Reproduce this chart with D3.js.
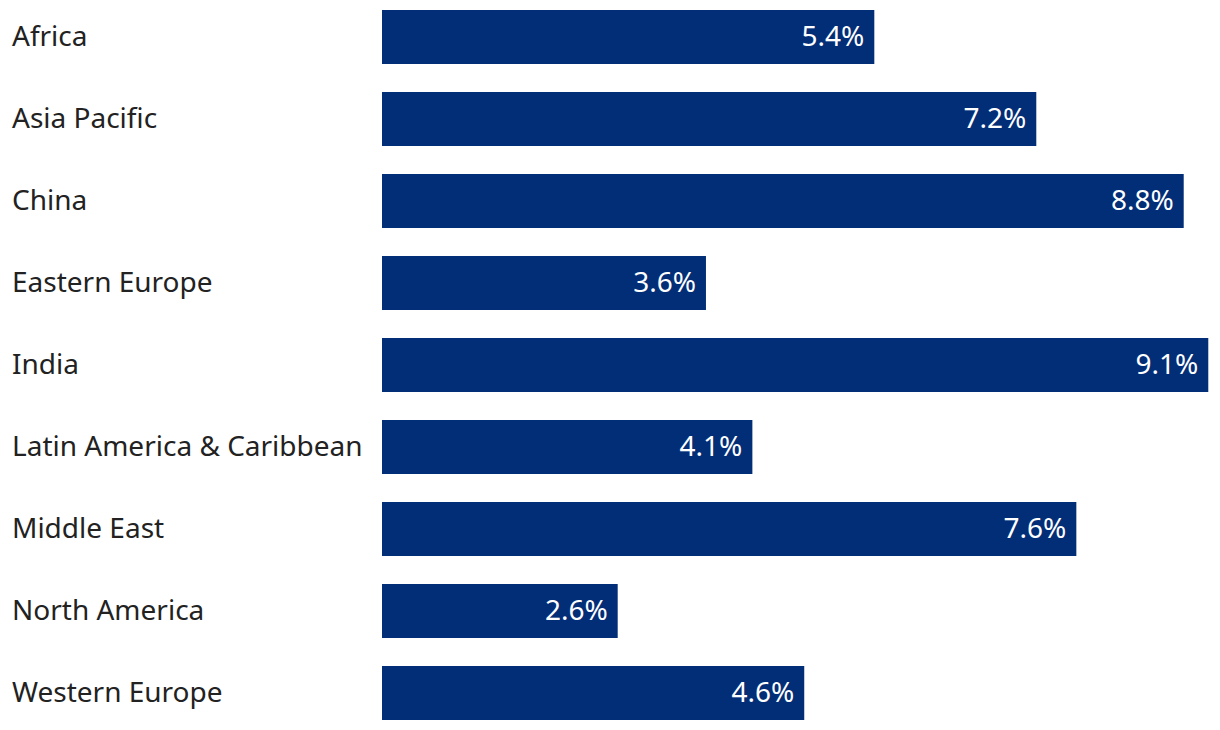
<!DOCTYPE html>
<html><head><meta charset="utf-8">
<script src="https://cdn.jsdelivr.net/npm/d3@7"></script>
<style>body{margin:0;background:#fff;}svg{display:block;}</style>
</head><body>
<svg id="chart" width="1220" height="730"></svg>
<script>
const categories = ["Africa","Asia Pacific","China","Eastern Europe","India","Latin America & Caribbean","Middle East","North America","Western Europe"];
const values = [5.41, 7.19, 8.81, 3.56, 9.08, 4.07, 7.63, 2.59, 4.64];

const svg = d3.select("#chart");
const x = d3.scaleLinear().domain([0, 10]).range([382, 1292]);
const y = d3.scaleBand().domain(categories).range([-4, 734]).paddingInner(28/82).paddingOuter(14/82);
const font = "'Noto Sans', 'Open Sans', sans-serif";

svg.selectAll("rect.bar").data(categories).join("rect")
  .attr("class","bar")
  .attr("x", x(0))
  .attr("y", d => y(d))
  .attr("width", (d,i) => x(values[i]) - x(0))
  .attr("height", y.bandwidth())
  .attr("fill", "#022d77");

svg.selectAll("text.cat").data(categories).join("text")
  .attr("class","cat")
  .attr("x", 12)
  .attr("y", d => y(d) + y.bandwidth()/2)
  .attr("dy", "0.32em")
  .attr("font-family", font)
  .attr("font-size", 28)
  .attr("fill", "#222")
  .text(d => d);

svg.selectAll("text.val").data(categories).join("text")
  .attr("class","val")
  .attr("x", (d,i) => x(values[i]) - 10)
  .attr("y", d => y(d) + y.bandwidth()/2)
  .attr("dy", "0.32em")
  .attr("text-anchor", "end")
  .attr("font-family", font)
  .attr("font-size", 28)
  .attr("fill", "#fff")
  .text((d,i) => values[i].toFixed(1) + "%");
</script>
</body></html>
